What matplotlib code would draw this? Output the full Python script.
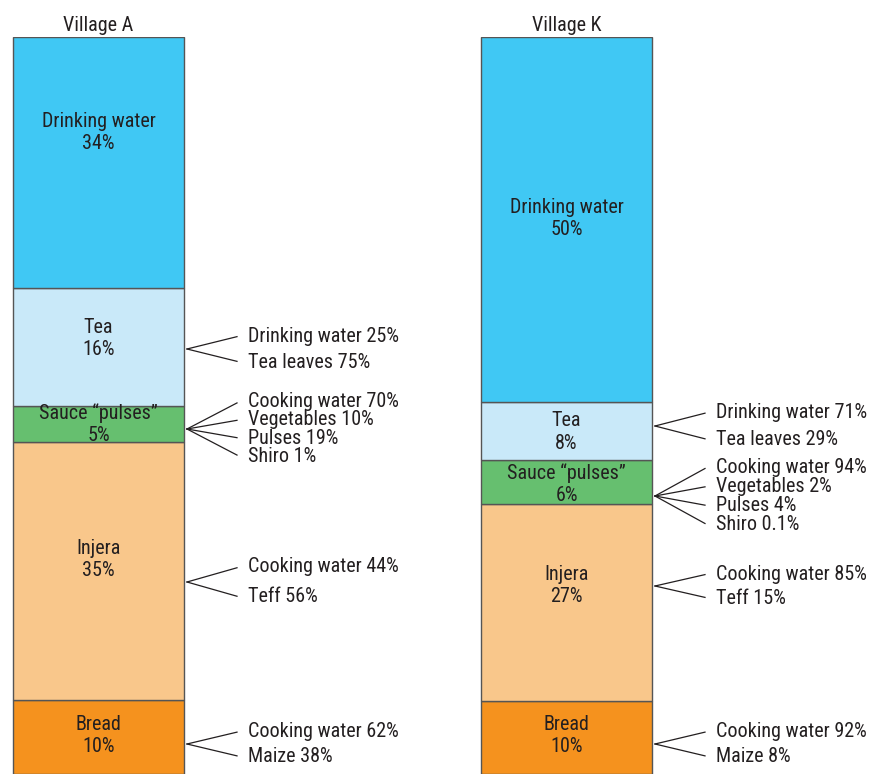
import matplotlib
matplotlib.use("Agg")
import matplotlib.pyplot as plt
import numpy as np

plt.rcParams['font.family'] = ['Roboto Condensed', 'DejaVu Sans']

# food items, bottom to top
items = ["Bread", "Injera", "Sauce \u201cpulses\u201d", "Tea", "Drinking water"]
colors = ["#F5921E", "#F9C78B", "#66BF6F", "#C9E9F9", "#40C8F4"]

share_A = [10, 35, 5, 16, 34]
share_K = [10, 27, 6, 8, 50]

# ingredient breakdown for each item (None = no breakdown)
parts_A = [
    ["Cooking water 62%", "Maize 38%"],
    ["Cooking water 44%", "Teff 56%"],
    ["Cooking water 70%", "Vegetables 10%", "Pulses 19%", "Shiro 1%"],
    ["Drinking water 25%", "Tea leaves 75%"],
    None,
]
parts_K = [
    ["Cooking water 92%", "Maize 8%"],
    ["Cooking water 85%", "Teff 15%"],
    ["Cooking water 94%", "Vegetables 2%", "Pulses 4%", "Shiro 0.1%"],
    ["Drinking water 71%", "Tea leaves 29%"],
    None,
]

W, H = 872, 774
fig = plt.figure(figsize=(W / 100, H / 100), dpi=100)
bar_top = 37  # pixel row where the bars start
txt_col = "#231f20"
fs = 14.5

# overlay in pixel coordinates for the callouts
ov = fig.add_axes([0, 0, 1, 1])
ov.set_xlim(0, W)
ov.set_ylim(H, 0)
ov.axis('off')

def draw_village(name, shares, parts, x0, label_shift, callout_y, spacing):
    total = sum(shares)
    ax = fig.add_axes([0, 0, 1, (H - bar_top) / H], zorder=2)
    ax.set_xlim(0, W)
    ax.set_ylim(0, total)
    ax.axis('off')
    width = 171
    xc = x0 + width / 2
    bottoms = np.concatenate([[0], np.cumsum(shares)[:-1]])
    ax.bar(xc, shares, width=width, bottom=bottoms, color=colors,
           edgecolor="#555555", linewidth=1.0)
    ax.annotate(name, (xc, total), xytext=(0, 1.5), textcoords='offset points',
                ha='center', va='bottom', fontsize=fs, color=txt_col)
    for i, (it, s, b) in enumerate(zip(items, shares, bottoms)):
        ax.annotate(f"{it}\n{s}%", (xc, b + s / 2), xytext=(0, -label_shift[i] * 0.72),
                    textcoords='offset points', ha='center', va='center',
                    fontsize=fs, linespacing=1.22, color=txt_col)
        if parts[i] is None:
            continue
        cy = callout_y[i]
        n = len(parts[i])
        ys = cy + (np.arange(n) - (n - 1) / 2) * spacing[i]
        vx = x0 + width + 3
        for y, txt in zip(ys, parts[i]):
            ov.plot([vx, vx + 50], [cy, y + (cy - y) * 0.05], color=txt_col, lw=0.9)
            ov.text(vx + 61, y, txt, ha='left', va='center', fontsize=fs, color=txt_col)

draw_village("Village A", share_A, parts_A, 13,
             label_shift=[-2, -12, 0, -8, -30],
             callout_y=[744, 582, 429, 349, None],
             spacing=[25, 30, 18.3, 26, 0])
draw_village("Village K", share_K, parts_K, 481,
             label_shift=[-2, -17, 2, 1, -1],
             callout_y=[744, 586, 496, 426, None],
             spacing=[25, 24, 19.3, 27, 0])

fig.savefig("out.png", dpi=100)
